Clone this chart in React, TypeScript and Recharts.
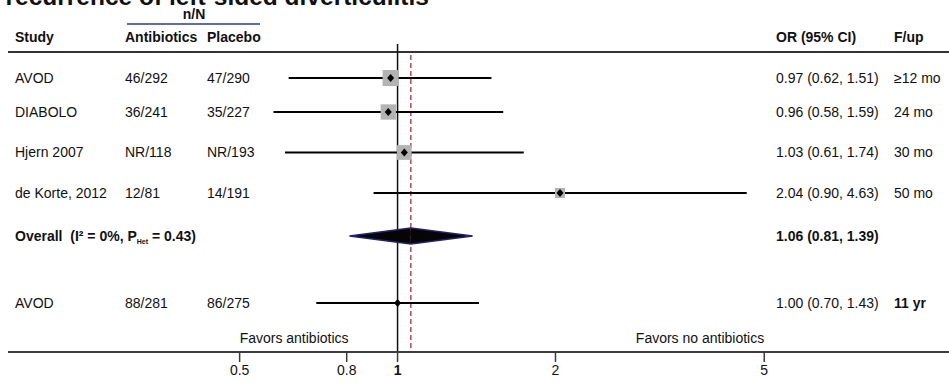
import { ComposedChart, Scatter, XAxis, YAxis, ReferenceLine } from 'recharts';

// per-study results (OR on log scale)
const studies = ['AVOD', 'DIABOLO', 'Hjern 2007', 'de Korte, 2012'];
const antibioticEvents = ['46/292', '36/241', 'NR/118', '12/81'];
const placeboEvents = ['47/290', '35/227', 'NR/193', '14/191'];
const oddsRatios = [0.97, 0.96, 1.03, 2.04];
const ciLower = [0.62, 0.58, 0.61, 0.9];
const ciUpper = [1.51, 1.59, 1.74, 4.63];
const followUp = ['≥12 mo', '24 mo', '30 mo', '50 mo'];
const weights = [31.8, 29.0, 26.8, 12.4];

// pooled estimate
const pooledOR = 1.06;
const pooledLower = 0.81;
const pooledUpper = 1.39;
const pooledI2 = '0%';
const pooledPHet = '0.43';

// long-term follow-up row
const longTermStudy = 'AVOD';
const longTermAntibiotics = '88/281';
const longTermPlacebo = '86/275';
const longTermOR = 1.0;
const longTermLower = 0.7;
const longTermUpper = 1.43;
const longTermFollowUp = '11 yr';

const xTicks = [0.5, 0.8, 1, 2, 5];

const FONT = '"Liberation Sans", Arial, Helvetica, sans-serif';
const X_DOMAIN = [0.1809, 11.25];
const Y_DOMAIN = [-1.1429, 8];
// vertical slots of each row (y axis units, top to bottom)
const SLOT = {
  title: -1.013,
  nN: -0.779,
  nNRule: -0.519,
  header: -0.169,
  headerRule: 0.208,
  top: 0,
  dashTop: 0.286,
  rows: [0.883, 1.766, 2.818, 3.87],
  pooled: 4.987,
  longTerm: 6.727,
  favors: 7.636,
  bottom: 8,
};
const COL = { study: 15, anti: 125, plac: 207, or: 776, fup: 894 };
const SQUARE_SCALE = 2.84;

const fmtCI = (or: number, lo: number, hi: number) =>
  `${or.toFixed(2)} (${lo.toFixed(2)}, ${hi.toFixed(2)})`;

const studyRows = studies.map((s, i) => ({
  x: oddsRatios[i],
  y: SLOT.rows[i],
  study: s,
  anti: antibioticEvents[i],
  plac: placeboEvents[i],
  lo: ciLower[i],
  hi: ciUpper[i],
  ci: fmtCI(oddsRatios[i], ciLower[i], ciUpper[i]),
  fup: followUp[i],
  w: weights[i],
}));

const longTermRow = {
  x: longTermOR,
  y: SLOT.longTerm,
  study: longTermStudy,
  anti: longTermAntibiotics,
  plac: longTermPlacebo,
  lo: longTermLower,
  hi: longTermUpper,
  ci: fmtCI(longTermOR, longTermLower, longTermUpper),
  fup: longTermFollowUp,
  w: 0,
  boldFup: true,
};

const headerPoints = [
  { x: 1, y: SLOT.title, kind: 'title' },
  { x: 1, y: SLOT.nN, kind: 'nN' },
  { x: 1, y: SLOT.nNRule, kind: 'rule' },
  { x: 1, y: SLOT.header, kind: 'cols' },
];

const favorsPoints = [
  { x: xTicks[0], y: SLOT.favors, label: 'Favors antibiotics', anchor: 'start' },
  { x: xTicks[xTicks.length - 1], y: SLOT.favors, label: 'Favors no antibiotics', anchor: 'end' },
];

const txt = { fontFamily: FONT, fontSize: 14, fill: '#111' };

const renderHeader = (p: any) => {
  const { cy, payload } = p;
  if (payload.kind === 'title')
    return (
      <text x={5.5} y={cy} style={{ ...txt, fontSize: 24.5, fontWeight: 700 }}>
        recurrence of left-sided diverticulitis
      </text>
    );
  if (payload.kind === 'nN')
    return (
      <text x={194} y={cy} dy="0.35em" textAnchor="middle" style={{ ...txt, fontWeight: 700 }}>
        n/N
      </text>
    );
  if (payload.kind === 'rule')
    return <line x1={127} x2={260} y1={cy} y2={cy} stroke="#2b3a8c" strokeWidth={1.5} />;
  const b = { ...txt, fontWeight: 700 };
  return (
    <g>
      <text x={COL.study} y={cy} dy="0.35em" style={b}>Study</text>
      <text x={COL.anti} y={cy} dy="0.35em" style={b}>Antibiotics</text>
      <text x={COL.plac} y={cy} dy="0.35em" style={b}>Placebo</text>
      <text x={COL.or} y={cy} dy="0.35em" style={b}>OR (95% CI)</text>
      <text x={COL.fup} y={cy} dy="0.35em" style={b}>F/up</text>
    </g>
  );
};

const renderRowText = (p: any) => {
  const { cy, payload } = p;
  return (
    <g>
      <text x={COL.study} y={cy} dy="0.35em" style={txt}>{payload.study}</text>
      <text x={COL.anti} y={cy} dy="0.35em" style={txt}>{payload.anti}</text>
      <text x={COL.plac} y={cy} dy="0.35em" style={txt}>{payload.plac}</text>
      <text x={COL.or} y={cy} dy="0.35em" style={txt}>{payload.ci}</text>
      <text x={COL.fup} y={cy} dy="0.35em" style={{ ...txt, fontWeight: payload.boldFup ? 700 : 400 }}>
        {payload.fup}
      </text>
    </g>
  );
};

const renderPooledText = (p: any) => {
  const { cy } = p;
  const b = { ...txt, fontWeight: 700, whiteSpace: 'pre' as const };
  return (
    <g>
      <text x={COL.study} y={cy} dy="0.35em" style={b}>
        <tspan>{`Overall  (I² = ${pooledI2}, P`}</tspan>
        <tspan dy={3} style={{ fontSize: 7 }}>Het</tspan>
        <tspan dy={-3}>{` = ${pooledPHet})`}</tspan>
      </text>
      <text x={COL.or} y={cy} dy="0.35em" style={b}>
        {fmtCI(pooledOR, pooledLower, pooledUpper)}
      </text>
    </g>
  );
};

const renderFavors = (p: any) => (
  <text x={p.cx} y={p.cy} dy="0.35em" textAnchor={p.payload.anchor} style={txt}>
    {p.payload.label}
  </text>
);

const renderMarker = (p: any) => {
  const { cx, cy, payload } = p;
  const s = SQUARE_SCALE * Math.sqrt(payload.w);
  return (
    <g>
      {s > 0 && <rect x={cx - s / 2} y={cy - s / 2} width={s} height={s} fill="#b3b3b3" />}
      <path d={`M${cx},${cy - 4} L${cx + 3.5},${cy} L${cx},${cy + 4} L${cx - 3.5},${cy} Z`} fill="#000" />
    </g>
  );
};

const DIAMOND_H = 8;
const leftHalf = (p: any) => (
  <g>
    <polygon
      points={`${p.x1},${p.y1} ${p.x2},${p.y1 - DIAMOND_H} ${p.x2},${p.y1 + DIAMOND_H}`}
      fill="#050505"
    />
    <polyline
      points={`${p.x2},${p.y1 - DIAMOND_H} ${p.x1},${p.y1} ${p.x2},${p.y1 + DIAMOND_H}`}
      fill="none"
      stroke="#22226e"
      strokeWidth={1.5}
    />
  </g>
);
const rightHalf = (p: any) => (
  <g>
    <polygon
      points={`${p.x1},${p.y1 - DIAMOND_H} ${p.x2},${p.y2} ${p.x1},${p.y1 + DIAMOND_H}`}
      fill="#050505"
    />
    <polyline
      points={`${p.x1},${p.y1 - DIAMOND_H} ${p.x2},${p.y2} ${p.x1},${p.y1 + DIAMOND_H}`}
      fill="none"
      stroke="#22226e"
      strokeWidth={1.5}
    />
  </g>
);

const renderTick = (p: any) => (
  <text
    x={p.x}
    y={p.y}
    dy="0.71em"
    textAnchor="middle"
    style={{ ...txt, fontWeight: p.payload.value === 1 ? 700 : 400 }}
  >
    {p.payload.value}
  </text>
);

export default function App() {
  const ciRows = [...studyRows, longTermRow];
  return (
    <div style={{ position: 'absolute', left: 0, top: 0, width: 949, height: 383, background: '#fff' }}>
      <ComposedChart width={949} height={383} margin={{ top: 0, right: 0, bottom: 0, left: 8 }}>
        <XAxis
          type="number"
          dataKey="x"
          scale="log"
          domain={X_DOMAIN}
          ticks={xTicks}
          interval={0}
          height={31}
          tickSize={10}
          tickMargin={3}
          axisLine={{ stroke: '#3c3c3c', strokeWidth: 2 }}
          tickLine={{ stroke: '#3c3c3c', strokeWidth: 1.5 }}
          tick={renderTick}
        />
        <YAxis type="number" dataKey="y" domain={Y_DOMAIN} reversed hide />

        <ReferenceLine
          segment={[{ x: X_DOMAIN[0], y: SLOT.headerRule }, { x: X_DOMAIN[1], y: SLOT.headerRule }]}
          stroke="#333"
          strokeWidth={2}
        />
        <ReferenceLine
          segment={[{ x: 1, y: SLOT.top }, { x: 1, y: SLOT.bottom }]}
          stroke="#111"
          strokeWidth={1.5}
        />
        <ReferenceLine
          segment={[{ x: pooledOR, y: SLOT.dashTop }, { x: pooledOR, y: SLOT.bottom }]}
          stroke="#b5485d"
          strokeWidth={1.5}
          strokeDasharray="5 3"
        />

        <Scatter data={ciRows} shape={renderMarker} isAnimationActive={false} />
        {ciRows.map((r, i) => (
          <ReferenceLine
            key={`ci-${i}`}
            segment={[{ x: r.lo, y: r.y }, { x: r.hi, y: r.y }]}
            stroke="#000"
            strokeWidth={2}
          />
        ))}
        <ReferenceLine
          segment={[{ x: pooledLower, y: SLOT.pooled }, { x: pooledOR, y: SLOT.pooled }]}
          shape={leftHalf}
        />
        <ReferenceLine
          segment={[{ x: pooledOR, y: SLOT.pooled }, { x: pooledUpper, y: SLOT.pooled }]}
          shape={rightHalf}
        />

        <Scatter data={headerPoints} shape={renderHeader} isAnimationActive={false} />
        <Scatter data={ciRows} shape={renderRowText} isAnimationActive={false} />
        <Scatter data={[{ x: pooledOR, y: SLOT.pooled }]} shape={renderPooledText} isAnimationActive={false} />
        <Scatter data={favorsPoints} shape={renderFavors} isAnimationActive={false} />
      </ComposedChart>
    </div>
  );
}
